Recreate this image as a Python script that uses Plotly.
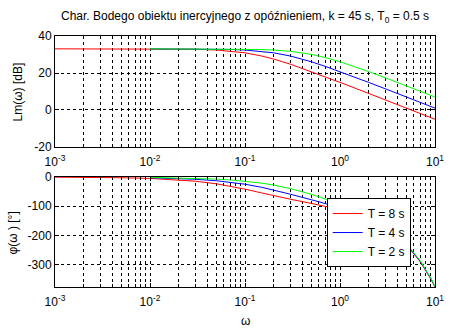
import plotly.graph_objects as go

# Frequencies [rad/s] at which each characteristic was sampled
omega_T8 = [0.001, 0.002, 0.005, 0.01, 0.02, 0.03, 0.05, 0.07, 0.1, 0.15, 0.2, 0.3,
            0.5, 0.7, 1, 1.5, 2, 3, 5, 7, 8, 9, 10]
omega_T4 = [0.01, 0.02, 0.03, 0.05, 0.07, 0.1, 0.15, 0.2, 0.3, 0.5, 0.7, 1, 1.5,
            2, 3, 5, 7, 8, 9, 10]
omega_T2 = [0.01, 0.02, 0.03, 0.05, 0.07, 0.1, 0.15, 0.2, 0.3, 0.5, 0.7, 1, 1.5,
            2, 3, 5, 7, 8, 9, 10]

# Log-magnitude Lm(w) [dB]
lm_T8 = [33.06, 33.06, 33.05, 33.03, 32.95, 32.82, 32.42, 31.88, 30.91, 29.19, 27.55,
         24.76, 20.76, 17.96, 14.93, 11.45, 8.96, 5.45, 1.02, -1.91, -3.06, -4.09, -5.00]
lm_T4 = [33.05, 33.03, 33.00, 32.89, 32.73, 32.42, 31.72, 30.91, 29.19, 26.07, 23.59,
         20.76, 17.38, 14.93, 11.45, 7.03, 4.11, 2.95, 1.93, 1.02]
lm_T2 = [33.06, 33.05, 33.04, 33.02, 32.98, 32.89, 32.69, 32.42, 31.72, 30.05, 28.35,
         26.07, 23.06, 20.76, 17.38, 13.02, 10.12, 8.96, 7.94, 7.03]

# Phase phi(w) [deg]
phi_T8 = [-0.49, -0.97, -2.43, -4.86, -9.66, -14.36, -23.23, -31.26, -41.53, -54.49,
          -63.72, -75.97, -90.28, -99.93, -111.52, -128.21, -143.72, -173.56, -231.81,
          -289.52, -318.28, -347.03, -375.76]
phi_T4 = [-2.58, -5.15, -7.70, -12.74, -17.65, -24.67, -35.26, -44.39, -58.79, -77.76,
          -90.40, -104.61, -123.51, -140.17, -171.18, -230.38, -288.49, -317.39,
          -346.24, -375.05]
phi_T2 = [-1.43, -2.86, -4.29, -7.14, -9.97, -14.17, -21.00, -27.53, -39.55, -59.32,
          -74.51, -92.08, -114.54, -133.26, -166.48, -227.53, -286.45, -315.60,
          -344.65, -373.62]

series_names = ["T = 8 s", "T = 4 s", "T = 2 s"]
series_colors = ["#ff0000", "#0000ff", "#00ff00"]

x_tickvals = [0.001, 0.01, 0.1, 1, 10]
x_ticktext = ["10<sup>-3</sup>", "10<sup>-2</sup>", "10<sup>-1</sup>",
              "10<sup>0</sup>", "10<sup>1</sup>"]
lm_tickvals = [-20, 0, 20, 40]
lm_ticktext = ["-20", "0", "20", "40"]
phi_tickvals = [-300, -200, -100, 0]
phi_ticktext = ["-300", "-200", "-100", "0"]

FONT = "Liberation Sans, Arial, Helvetica, sans-serif"

fig = go.Figure()

omegas = [omega_T8, omega_T4, omega_T2]
lms = [lm_T8, lm_T4, lm_T2]
phis = [phi_T8, phi_T4, phi_T2]

for name, color, w, lm in zip(series_names, series_colors, omegas, lms):
    fig.add_trace(go.Scatter(x=w, y=lm, mode="lines", name=name,
                             line=dict(color=color, width=1),
                             xaxis="x", yaxis="y", showlegend=False))
for name, color, w, ph in zip(series_names, series_colors, omegas, phis):
    fig.add_trace(go.Scatter(x=w, y=ph, mode="lines", name=name,
                             line=dict(color=color, width=1),
                             xaxis="x2", yaxis="y2", showlegend=True))

minor_vals = [k * 10.0 ** e for e in range(-3, 1) for k in range(2, 10)]
grid_dash = "3px,3px"


def log_axis(anchor, domain):
    return dict(
        type="log", range=[-3, 1], domain=domain, anchor=anchor,
        tickmode="array", tickvals=x_tickvals, ticktext=x_ticktext,
        ticks="inside", ticklen=4, tickcolor="black", ticklabelstandoff=4,
        showline=True, linecolor="black", linewidth=1, mirror="ticks",
        showgrid=True, gridcolor="black", gridwidth=1, griddash=grid_dash,
        zeroline=False,
        tickfont=dict(family=FONT, size=12, color="black"),
        minor=dict(tickmode="array", tickvals=minor_vals, ticks="inside",
                   ticklen=3, tickcolor="black", showgrid=True,
                   gridcolor="black", gridwidth=1, griddash=grid_dash),
    )


def lin_axis(anchor, domain, rng, tv, tt):
    return dict(
        range=rng, domain=domain, anchor=anchor,
        tickmode="array", tickvals=tv, ticktext=tt,
        ticks="inside", ticklen=4, tickcolor="black",
        showline=True, linecolor="black", linewidth=1, mirror="ticks",
        showgrid=True, gridcolor="black", gridwidth=1, griddash=grid_dash,
        zeroline=False,
        tickfont=dict(family=FONT, size=12, color="black"),
    )


top_dom = [0.5578, 1.0]
bot_dom = [0.0, 0.4382]

fig.update_layout(
    width=461, height=330,
    margin=dict(l=55, r=26, t=36, b=43),
    paper_bgcolor="white", plot_bgcolor="white",
    font=dict(family=FONT, size=12, color="black"),
    xaxis=log_axis("y", [0, 1]),
    yaxis=lin_axis("x", top_dom, [-20, 40], lm_tickvals, lm_ticktext),
    xaxis2=log_axis("y2", [0, 1]),
    yaxis2=lin_axis("x2", bot_dom, [-376, 0], phi_tickvals, phi_ticktext),
    legend=dict(x=0.715, y=0.217, xanchor="left", yanchor="middle",
                bgcolor="white", bordercolor="black", borderwidth=1,
                font=dict(family=FONT, size=12, color="black"),
                tracegroupgap=0),
    annotations=[
        dict(text="Char. Bodego obiektu inercyjnego z opóźnieniem, k = 45 s, T<sub>0</sub> = 0.5 s",
             xref="paper", yref="paper", x=0.5, y=1.0757, xanchor="center",
             yanchor="middle", showarrow=False,
             font=dict(family=FONT, size=12, color="black")),
        dict(text="Lm(ω) [dB]", xref="paper", yref="paper", x=-0.0974, y=0.779,
             xanchor="center", yanchor="middle", textangle=-90, showarrow=False,
             font=dict(family=FONT, size=12, color="black")),
        dict(text="φ(ω ) [°]", xref="paper", yref="paper", x=-0.1105, y=0.213,
             xanchor="center", yanchor="middle", textangle=-90, showarrow=False,
             font=dict(family=FONT, size=12, color="black")),
        dict(text="ω", xref="paper", yref="paper", x=0.5, y=-0.135,
             xanchor="center", yanchor="middle", showarrow=False,
             font=dict(family=FONT, size=12, color="black")),
    ],
)

fig.write_html("out.html")
